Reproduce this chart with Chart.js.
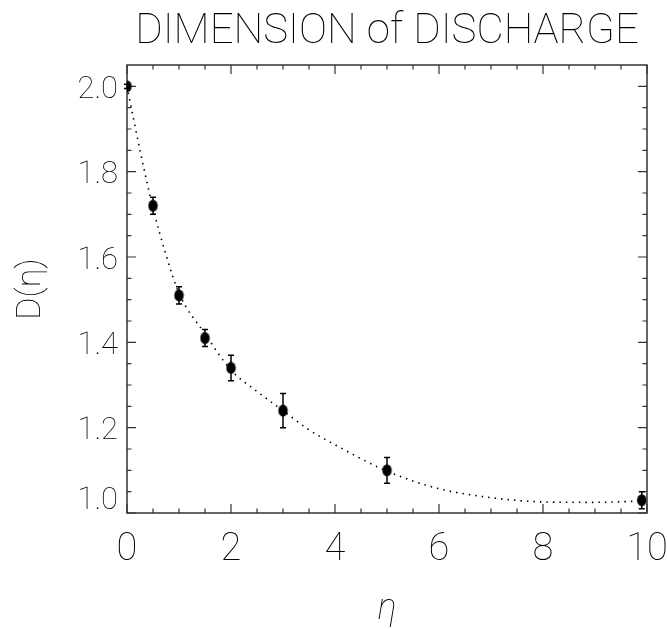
<!DOCTYPE html>
<html>
<head>
<meta charset="utf-8">
<script src="https://cdn.jsdelivr.net/npm/chart.js@4.4.1/dist/chart.umd.min.js"></script>
<style>
  body { margin: 0; background: #fff; }
  #wrap { width: 667px; height: 629px; }
</style>
</head>
<body>
<div id="wrap"><canvas id="dimChart"></canvas></div>
<script>
// measured points: eta, D(eta) and its error
const etaValues = [0, 0.5, 1, 1.5, 2, 3, 5, 9.9];
const dimValues = [2.00, 1.72, 1.51, 1.41, 1.34, 1.24, 1.10, 1.03];
const dimErrors = [0.005, 0.02, 0.02, 0.02, 0.03, 0.04, 0.03, 0.02];

// fitted curve (dotted)
const fitEta = [0, 0.25, 0.5, 0.75, 1, 1.5, 2, 2.5, 3, 3.5, 4, 5, 6, 7, 8, 9, 9.9];
const fitDim = [2.0, 1.85, 1.715, 1.605, 1.515, 1.42, 1.335, 1.285, 1.24, 1.195, 1.16, 1.098, 1.057, 1.036, 1.026, 1.025, 1.028];

const xTickValues = [0, 2, 4, 6, 8, 10];
const xTickLabels = ['0', '2', '4', '6', '8', '10'];
const yTickValues = [1.0, 1.2, 1.4, 1.6, 1.8, 2.0];
const yTickLabels = ['1.0', '1.2', '1.4', '1.6', '1.8', '2.0'];

const thin = 'Roboto';

// filled ellipse used as the plot symbol
function makeDot() {
  const c = document.createElement('canvas');
  c.width = 11; c.height = 13;
  const g = c.getContext('2d');
  g.fillStyle = '#000';
  g.beginPath();
  g.ellipse(5.5, 6.5, 4.7, 6.0, 0, 0, Math.PI * 2);
  g.fill();
  return c;
}

const errorBars = {
  id: 'errorBars',
  afterDatasetsDraw(chart) {
    const { ctx, scales: { x, y } } = chart;
    ctx.save();
    ctx.strokeStyle = '#000';
    ctx.lineWidth = 1.5;
    ctx.beginPath();
    etaValues.forEach((e, i) => {
      const px = x.getPixelForValue(e);
      const lo = y.getPixelForValue(dimValues[i] - dimErrors[i]);
      const hi = y.getPixelForValue(dimValues[i] + dimErrors[i]);
      ctx.moveTo(px, lo); ctx.lineTo(px, hi);
      ctx.moveTo(px - 3, lo); ctx.lineTo(px + 3, lo);
      ctx.moveTo(px - 3, hi); ctx.lineTo(px + 3, hi);
    });
    ctx.stroke();
    ctx.restore();
  }
};

// box around the plot with inward major/minor ticks on all sides
const frameTicks = {
  id: 'frameTicks',
  beforeDatasetsDraw(chart) {
    const { ctx, chartArea: a, scales: { x, y } } = chart;
    ctx.save();
    ctx.strokeStyle = '#333';
    ctx.lineWidth = 1.5;
    ctx.strokeRect(a.left, a.top, a.right - a.left, a.bottom - a.top);
    ctx.lineWidth = 1.2;
    ctx.beginPath();
    for (let i = 0; i <= 20; i++) {
      const px = x.getPixelForValue(i * 0.5);
      const len = i % 4 === 0 ? 9 : 4.5;
      ctx.moveTo(px, a.bottom); ctx.lineTo(px, a.bottom - len);
      ctx.moveTo(px, a.top); ctx.lineTo(px, a.top + len);
    }
    for (let i = 0; i <= 20; i++) {
      const py = y.getPixelForValue(1.0 + i * 0.05);
      const len = i % 4 === 0 ? 9 : 4.5;
      ctx.moveTo(a.left, py); ctx.lineTo(a.left + len, py);
      ctx.moveTo(a.right, py); ctx.lineTo(a.right - len, py);
    }
    ctx.stroke();
    ctx.restore();
  }
};

new Chart(document.getElementById('dimChart'), {
  type: 'scatter',
  data: {
    datasets: [
      {
        type: 'line',
        data: fitEta.map((e, i) => ({ x: e, y: fitDim[i] })),
        borderColor: '#000',
        borderWidth: 1.6,
        borderDash: [1.5, 5],
        pointRadius: 0,
        tension: 0.4,
        cubicInterpolationMode: 'monotone',
        fill: false
      },
      {
        data: etaValues.map((e, i) => ({ x: e, y: dimValues[i] })),
        pointStyle: makeDot(),
        pointRadius: 6,
        showLine: false,
        clip: { left: 0, top: 10, right: 10, bottom: 10 }
      }
    ]
  },
  options: {
    responsive: true,
    maintainAspectRatio: false,
    animation: false,
    devicePixelRatio: 1,
    layout: { padding: { left: 0, right: 20, top: 0, bottom: 0 } },
    plugins: { legend: { display: false }, tooltip: { enabled: false } },
    scales: {
      x: {
        type: 'linear',
        position: 'bottom',
        min: 0,
        max: 10,
        afterBuildTicks: s => { s.ticks = xTickValues.map(v => ({ value: v })); },
        afterFit: s => { s.height = 116; s.paddingRight = 0; s.paddingLeft = 0; },
        grid: { display: false, drawTicks: false },
        border: { display: false },
        ticks: {
          callback: (v, i) => xTickLabels[i],
          color: '#000',
          padding: 18,
          maxRotation: 0,
          autoSkip: false,
          font: { family: thin, weight: '100', size: 38, lineHeight: 1 }
        },
        title: {
          display: true,
          text: 'η',
          color: '#000',
          padding: { top: 0, bottom: 1 },
          font: { family: thin, weight: '100', style: 'italic', size: 36, lineHeight: 1 }
        }
      },
      x2: {
        type: 'linear',
        position: 'top',
        min: 0,
        max: 10,
        afterFit: s => { s.height = 65; },
        grid: { display: false, drawTicks: false },
        border: { display: false },
        ticks: { display: false },
        title: {
          display: true,
          text: 'DIMENSION of DISCHARGE',
          color: '#000',
          padding: { top: 11, bottom: 0 },
          font: { family: thin, weight: '100', size: 42, lineHeight: 1 }
        }
      },
      y: {
        type: 'linear',
        position: 'left',
        min: 1.0,
        max: 2.05,
        afterBuildTicks: s => { s.ticks = yTickValues.map(v => ({ value: v })); },
        afterFit: s => { s.width = 127; },
        grid: { display: false, drawTicks: false },
        border: { display: false },
        ticks: {
          // the lowest label sits a little above the corner
          callback: (v, i) => (i === 0 ? [yTickLabels[i], ''] : yTickLabels[i]),
          color: '#000',
          padding: 9,
          labelOffset: 4,
          autoSkip: false,
          font: { family: thin, weight: '100', size: 31, lineHeight: 1 }
        },
        title: {
          display: true,
          text: 'D(η)',
          color: '#000',
          padding: { top: 14, bottom: 0 },
          font: { family: thin, weight: '100', size: 34, lineHeight: 1 }
        }
      }
    }
  },
  plugins: [frameTicks, errorBars]
});
</script>
</body>
</html>
